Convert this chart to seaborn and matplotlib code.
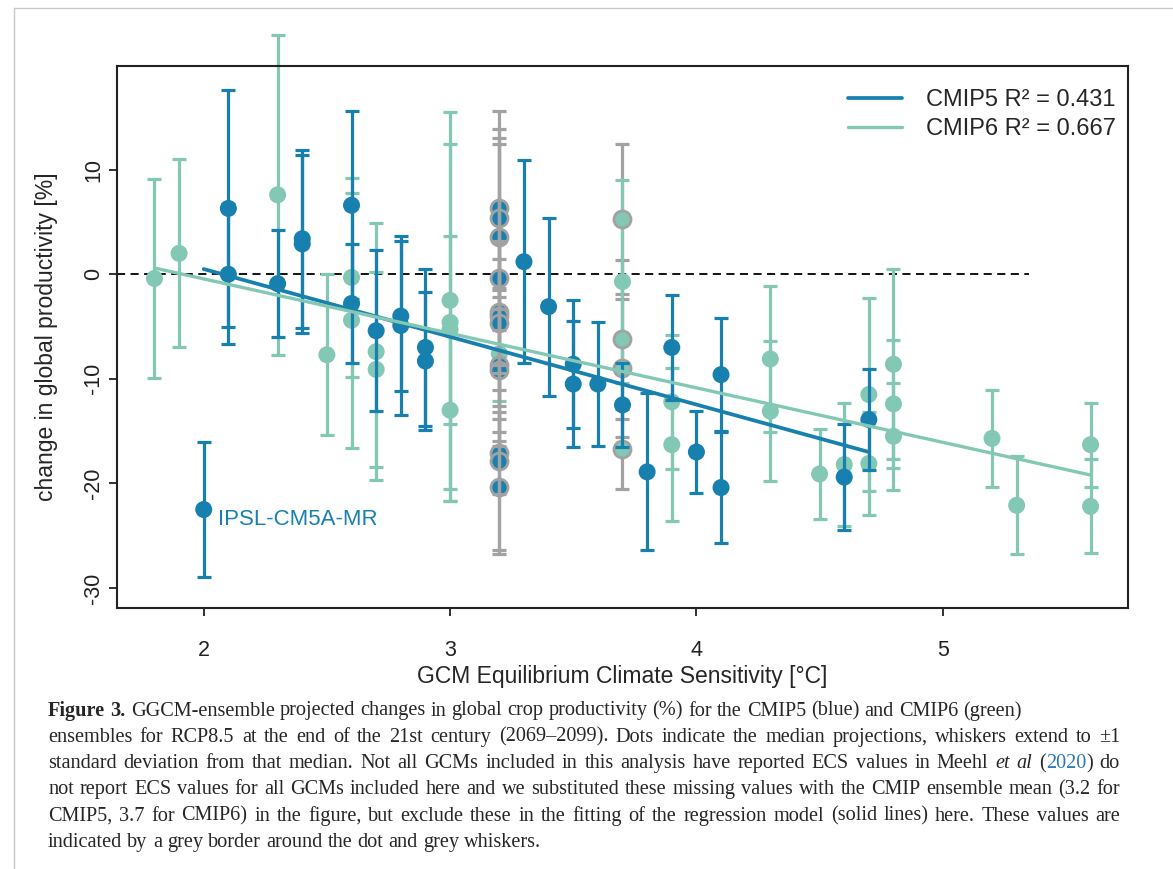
import numpy as np
import pandas as pd
import matplotlib.pyplot as plt
import seaborn as sns
from matplotlib.lines import Line2D

# ECS [°C], median change [%] and 1 SD for each GCM
cmip5_ecs = [2.0, 2.1, 2.1, 2.3, 2.4, 2.4, 2.6, 2.6, 2.7, 2.8, 2.8, 2.9, 2.9,
             3.3, 3.4, 3.5, 3.5, 3.6, 3.7, 3.8, 3.9, 4.0, 4.1, 4.1, 4.6, 4.7]
cmip5_med = [-22.5, 6.3, 0.0, -0.9, 3.4, 2.9, 6.6, -2.8, -5.4, -4.0, -4.9, -7.0, -8.3,
             1.2, -3.1, -8.6, -10.5, -10.5, -12.5, -18.9, -7.0, -17.0, -9.6, -20.4, -19.4, -13.9]
cmip5_sd = [6.5, 11.3, 6.7, 5.1, 8.5, 8.5, 9.0, 5.7, 7.7, 7.2, 8.6, 7.5, 6.6,
            9.7, 8.5, 6.1, 6.0, 5.9, 4.0, 7.5, 5.0, 3.9, 5.4, 5.3, 5.1, 4.8]

cmip6_ecs = [1.8, 1.9, 2.3, 2.5, 2.6, 2.6, 2.7, 2.7, 3.0, 3.0, 3.0, 3.0, 3.2, 3.7,
             3.9, 3.9, 4.3, 4.3, 4.5, 4.6, 4.7, 4.7, 4.8, 4.8, 4.8, 5.2, 5.3, 5.6, 5.6]
cmip6_med = [-0.4, 2.0, 7.6, -7.7, -0.3, -4.4, -7.4, -9.1, -2.5, -4.6, -5.3, -13.0, -7.6, -0.7,
             -12.2, -16.3, -8.1, -13.1, -19.1, -18.2, -11.5, -18.1, -8.6, -12.4, -15.5,
             -15.7, -22.1, -16.3, -22.2]
cmip6_sd = [9.5, 9.0, 15.3, 7.7, 9.5, 12.2, 12.3, 9.3, 18.0, 17.1, 9.0, 8.7, 4.5, 9.7,
            6.4, 7.3, 7.0, 6.7, 4.3, 5.9, 9.2, 4.9, 9.1, 6.1, 5.1, 4.6, 4.7, 4.0, 4.5]

# GCMs without reported ECS -> ensemble mean substituted
cmip5_mean_ecs = 3.2
cmip5_missing_med = [6.3, 5.4, 3.6, -0.4, -3.6, -4.0, -4.7, -8.7, -9.2, -17.1, -17.9, -20.3]
cmip5_missing_sd = [7.6, 7.6, 8.9, 16.0, 5.1, 7.1, 7.9, 7.2, 5.9, 3.9, 8.5, 6.5]
cmip6_mean_ecs = 3.7
cmip6_missing_med = [5.3, -6.2, -9.0, -16.7]
cmip6_missing_sd = [7.2, 7.6, 6.6, 3.8]

# regression lines (ends)
fit5_x = [2.0, 4.7]
fit5_y = [0.5, -17.0]
fit6_x = [1.8, 5.6]
fit6_y = [0.6, -19.2]
fit_labels = ["CMIP5 R² = 0.431", "CMIP6 R² = 0.667"]

blue = "#1780ae"
teal = "#82c8b4"
grey = "#a2a2a2"

sns.set_style("ticks")
plt.rcParams["font.family"] = ["Liberation Sans", "DejaVu Sans"]
plt.rcParams["axes.unicode_minus"] = False

fig = plt.figure(figsize=(11.73, 8.69), dpi=100)
ax = fig.add_axes([117 / 1173, 1 - 608 / 869, 1011 / 1173, 542 / 869])

df5 = pd.DataFrame({"ecs": cmip5_ecs, "med": cmip5_med, "sd": cmip5_sd})
df6 = pd.DataFrame({"ecs": cmip6_ecs, "med": cmip6_med, "sd": cmip6_sd})
dm5 = pd.DataFrame({"ecs": np.full(len(cmip5_missing_med), cmip5_mean_ecs),
                    "med": cmip5_missing_med, "sd": cmip5_missing_sd})
dm6 = pd.DataFrame({"ecs": np.full(len(cmip6_missing_med), cmip6_mean_ecs),
                    "med": cmip6_missing_med, "sd": cmip6_missing_sd})


def whiskers(d, col, z):
    eb = ax.errorbar(d["ecs"], d["med"], yerr=d["sd"], fmt="none", ecolor=col,
                     elinewidth=2.3, capsize=4.8, capthick=2.3, zorder=z)
    for a in list(eb.lines[1]) + list(eb.lines[2]):
        a.set_clip_on(False)


def dots(d, col, z, edge=None):
    sns.scatterplot(data=d, x="ecs", y="med", color=col, s=150, ax=ax, zorder=z,
                    edgecolor=edge if edge else "none", linewidth=2.0 if edge else 0,
                    clip_on=False)


ax.axhline(0, xmin=0, xmax=0.902, color="black", lw=1.3, dashes=(4.5, 3), zorder=1)

whiskers(dm6, grey, 1.5)
dots(dm6, teal, 2.5, edge=grey)
whiskers(df6, teal, 2)
dots(df6, teal, 3)
whiskers(df5, blue, 4)
dots(df5, blue, 5)
dots(dm5, blue, 5.5, edge=grey)
whiskers(dm5, grey, 6)

sns.lineplot(x=fit5_x, y=fit5_y, color=blue, lw=2.7, ax=ax, zorder=7, label=fit_labels[0])
sns.lineplot(x=fit6_x, y=fit6_y, color=teal, lw=2.4, ax=ax, zorder=7, label=fit_labels[1])

ax.text(2.06, -23.5, "IPSL-CM5A-MR", color=blue, fontsize=16, va="center")

ax.set_xlim(1.648, 5.752)
ax.set_ylim(-31.92, 19.92)
ax.set_xticks([2, 3, 4, 5])
ax.set_yticks([-30, -20, -10, 0, 10])
ax.tick_params(length=6, width=1.3, labelsize=15.5, colors="#222222")
ax.tick_params(axis="x", pad=17)
ax.tick_params(axis="y", pad=3)
plt.setp(ax.get_yticklabels(), rotation=90, va="center")
for s in ax.spines.values():
    s.set_color("#222222")
    s.set_linewidth(1.5)

ax.set_xlabel("GCM Equilibrium Climate Sensitivity [°C]", fontsize=16.5)
ax.set_ylabel("change in global productivity [%]", fontsize=16.5)
ax.xaxis.set_label_coords(0.5, -0.105)
ax.yaxis.set_label_coords(-0.058, 0.5)

ax.legend(loc="upper right", bbox_to_anchor=(0.997, 0.975), frameon=False, fontsize=17,
          handlelength=2.3, handletextpad=1.0, labelspacing=0.3, borderaxespad=0)

# journal frame lines
fig.add_artist(Line2D([14 / 1173, 14 / 1173], [0, 1 - 8 / 869], transform=fig.transFigure,
                      color="#c8c8c8", lw=1))
fig.add_artist(Line2D([14 / 1173, 1], [1 - 8 / 869, 1 - 8 / 869], transform=fig.transFigure,
                      color="#c8c8c8", lw=1))

# caption
cap_font = ["Liberation Serif", "DejaVu Serif"]
N = {}
B = {"weight": "bold"}
I = {"style": "italic"}
L = {"color": "#2a7ab8"}

caption = [
    ([[("Figure", B)], [("3.", B)]] + [[(w, N)] for w in
      "GGCM-ensemble projected changes in global crop productivity (%) for the CMIP5 (blue) and CMIP6 (green)".split()], False),
    ([[(w, N)] for w in
      "ensembles for RCP8.5 at the end of the 21st century (2069–2099). Dots indicate the median projections, whiskers extend to ±1".split()], True),
    ([[(w, N)] for w in
      "standard deviation from that median. Not all GCMs included in this analysis have reported ECS values in Meehl".split()]
     + [[("et", I)], [("al", I)], [("(", N), ("2020", L), (")", N)], [("do", N)]], True),
    ([[(w, N)] for w in
      "not report ECS values for all GCMs included here and we substituted these missing values with the CMIP ensemble mean (3.2 for".split()], True),
    ([[(w, N)] for w in
      "CMIP5, 3.7 for CMIP6) in the figure, but exclude these in the fitting of the regression model (solid lines) here. These values are".split()], True),
    ([[(w, N)] for w in
      "indicated by a grey border around the dot and grey whiskers.".split()], False),
]

renderer = fig.canvas.get_renderer()
W, H = fig.bbox.width, fig.bbox.height
cap_size = 14.6
x0, x1 = 48, 1120


def tw(s, props):
    t = fig.text(0, 0, s, fontsize=cap_size, family=cap_font, **props)
    w = t.get_window_extent(renderer).width
    t.remove()
    return w


space = tw("a a", N) - tw("aa", N)
for i, (words, justify) in enumerate(caption):
    y = 1 - (711 + i * 26.3) / H
    widths = [sum(tw(s, p) for s, p in w) for w in words]
    gap = (x1 - x0 - sum(widths)) / (len(words) - 1) if justify else space
    gap = max(gap, 0.7 * space)
    x = x0
    for w, wd in zip(words, widths):
        xx = x
        for s, p in w:
            fig.text(xx / W, y, s, fontsize=cap_size, family=cap_font, va="center", **p)
            xx += tw(s, p)
        x += wd + gap

fig.savefig("out.png", dpi=100)
